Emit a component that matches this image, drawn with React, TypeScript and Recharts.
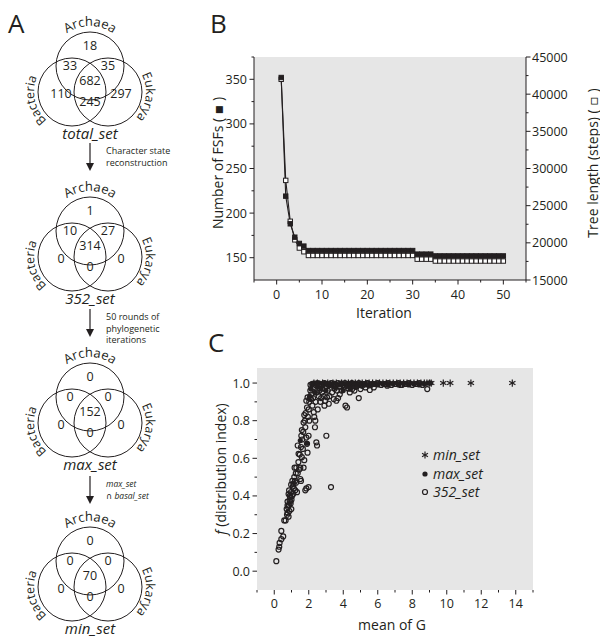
import React from 'react';
import { LineChart, Line, ScatterChart, Scatter, XAxis, YAxis, CartesianGrid } from 'recharts';

const FONT = '"Open Sans", "DejaVu Sans", sans-serif';
const INK = '#231f20';
const PLOT_BG = '#e6e6e6';

// ---- panel A: Venn counts (Archaea / Bacteria / Eukarya)
const vennNames = ['total_set', '352_set', 'max_set', 'min_set'];
const archaeaOnly = [18, 1, 0, 0];
const archaeaBacteria = [33, 10, 0, 0];
const archaeaEukarya = [35, 27, 0, 0];
const allDomains = [682, 314, 152, 70];
const bacteriaOnly = [110, 0, 0, 0];
const eukaryaOnly = [297, 0, 0, 0];
const bacteriaEukarya = [245, 0, 0, 0];
const stepNotes = [
  ['Character state', 'reconstruction'],
  ['50 rounds of', 'phylogenetic', 'iterations'],
  ['max_set', '\u2229 basal_set'],
];

// ---- panel B: FSFs and tree length per iteration
const iterations = [
  1, 2, 3, 4, 5, 6, 7, 8, 9, 10, 11, 12, 13, 14, 15, 16, 17, 18, 19, 20, 21, 22, 23, 24, 25,
  26, 27, 28, 29, 30, 31, 32, 33, 34, 35, 36, 37, 38, 39, 40, 41, 42, 43, 44, 45, 46, 47, 48, 49, 50,
];
const fsfCounts = [
  352, 219, 188, 173, 166, 163,
  158, 158, 158, 158, 158, 158, 158, 158, 158, 158, 158, 158, 158, 158, 158, 158, 158, 158, 158, 158, 158, 158, 158, 158,
  154, 154, 154, 154,
  152, 152, 152, 152, 152, 152, 152, 152, 152, 152, 152, 152, 152, 152, 152, 152,
];
const treeLengths = [
  42000, 28400, 22900, 20400, 19300, 18800,
  18300, 18300, 18300, 18300, 18300, 18300, 18300, 18300, 18300, 18300, 18300, 18300, 18300, 18300, 18300, 18300, 18300, 18300, 18300, 18300, 18300, 18300, 18300, 18300,
  17800, 17800, 17800, 17800,
  17550, 17550, 17550, 17550, 17550, 17550, 17550, 17550, 17550, 17550, 17550, 17550, 17550, 17550, 17550, 17550,
];
const bXTicks = [-5, 0, 5, 10, 15, 20, 25, 30, 35, 40, 45, 50, 55];
const bXLabels = [0, 10, 20, 30, 40, 50];
const bLeftTicks = [150, 175, 200, 225, 250, 275, 300, 325, 350, 375];
const bLeftLabels = [150, 200, 250, 300, 350];
const bRightTicks = [15000, 17500, 20000, 22500, 25000, 27500, 30000, 32500, 35000, 37500, 40000, 42500, 45000];
const bRightLabels = [15000, 20000, 25000, 30000, 35000, 40000, 45000];

// ---- panel C: f vs mean of G
const set352 = [
  [0.12, 0.053], [0.25, 0.115], [0.29, 0.13], [0.31, 0.15], [0.41, 0.17], [0.41, 0.214], [0.52, 0.185],
  [0.58, 0.27], [0.66, 0.27], [0.74, 0.3], [0.77, 0.31], [0.83, 0.29], [0.77, 0.35], [0.77, 0.37],
  [0.85, 0.35], [0.89, 0.376], [0.93, 0.394], [0.83, 0.41], [0.97, 0.42], [1.03, 0.4], [0.99, 0.33],
  [0.93, 0.37], [1.08, 0.45], [1.12, 0.465], [1.05, 0.48], [1.16, 0.5], [1.22, 0.43], [1.32, 0.42],
  [1.26, 0.47], [1.36, 0.52], [1.28, 0.55], [1.18, 0.55], [1.36, 0.668], [1.41, 0.624], [1.51, 0.49],
  [1.51, 0.55], [1.55, 0.48], [1.6, 0.606], [1.66, 0.65], [1.7, 0.55], [1.74, 0.59], [1.57, 0.72],
  [1.6, 0.75], [1.7, 0.79], [1.74, 0.83], [1.8, 0.765], [1.86, 0.71], [1.9, 0.677], [1.99, 0.447],
  [1.8, 0.43], [1.86, 0.44], [1.93, 0.63], [1.99, 0.72], [2.03, 0.8], [1.9, 0.87], [1.86, 0.906],
  [1.93, 0.924], [2.03, 0.9], [2.13, 0.915], [2.09, 0.96], [2.21, 0.88], [2.29, 0.845], [2.32, 0.82],
  [2.38, 0.8], [2.36, 0.765], [2.44, 0.685], [2.48, 0.668], [2.52, 0.86], [2.58, 0.93], [2.67, 0.9],
  [2.77, 0.95], [2.87, 0.93], [2.91, 0.88], [3.02, 0.72], [2.96, 0.905], [3.06, 0.924], [3.16, 0.89],
  [3.29, 0.447], [3.35, 0.95], [3.45, 0.915], [3.6, 0.906], [3.64, 0.96], [3.8, 0.94], [4.13, 0.88],
  [4.22, 0.87], [4.38, 0.95], [4.52, 0.968], [4.65, 0.96], [4.9, 0.92], [5.0, 0.968], [5.29, 0.977],
  [5.54, 0.963], [5.77, 0.977], [6.55, 0.986], [7.32, 0.99], [8.87, 0.968],
  [0.72, 0.33], [0.8, 0.34], [0.88, 0.32], [0.95, 0.36], [1.0, 0.38], [0.9, 0.4], [0.86, 0.43],
  [1.1, 0.41], [1.14, 0.44], [1.2, 0.48], [0.98, 0.46], [1.25, 0.52], [1.4, 0.58], [1.45, 0.54],
  [1.48, 0.62], [1.55, 0.66], [1.62, 0.7], [1.68, 0.74], [1.78, 0.8], [1.82, 0.84], [1.95, 0.82],
  [2.0, 0.86], [2.06, 0.92], [2.15, 0.94], [2.25, 0.92], [2.4, 0.9], [2.45, 0.95], [2.62, 0.96],
  [2.72, 0.92], [2.8, 0.97], [3.1, 0.96], [3.2, 0.93], [3.5, 0.97], [3.7, 0.92], [3.9, 0.96],
  [4.05, 0.98], [4.3, 0.97], [4.7, 0.98], [5.1, 0.985],
  [2.1, 0.99], [2.2, 0.995], [2.3, 0.98], [2.4, 0.99], [2.5, 1.0], [2.6, 0.985], [2.7, 0.995],
  [2.8, 0.99], [2.9, 1.0], [3.0, 0.98], [3.1, 0.995], [3.2, 0.99], [3.3, 1.0], [3.4, 0.985],
  [3.5, 0.995], [3.6, 0.99], [3.7, 1.0], [3.8, 0.98], [3.9, 0.995], [4.0, 0.99], [4.1, 1.0],
  [4.2, 0.985], [4.3, 0.995], [4.4, 0.99], [4.5, 1.0], [4.6, 0.985], [4.7, 0.995], [4.8, 0.99],
  [4.9, 1.0], [5.0, 0.99], [5.2, 0.995], [5.4, 1.0], [5.6, 0.99], [5.8, 0.995], [6.0, 1.0],
  [6.2, 0.99], [6.4, 0.995], [6.6, 1.0], [6.8, 0.99], [7.0, 0.995], [7.2, 1.0], [7.4, 0.99],
  [7.6, 0.995], [7.8, 1.0], [8.0, 0.99], [8.2, 0.995], [8.4, 1.0], [8.6, 0.99],
];
const maxSet = [
  [1.51, 0.694], [1.9, 0.68], [2.05, 0.93], [2.12, 0.97], [2.2, 0.99], [2.35, 0.95], [2.5, 0.98],
  [2.7, 0.97], [2.85, 0.99], [3.0, 0.96], [3.15, 0.985], [3.3, 0.99], [3.55, 0.975], [3.75, 0.99],
  [4.0, 0.96], [4.25, 0.985], [4.4, 0.97], [4.6, 0.99], [4.8, 0.98], [5.05, 0.995], [5.3, 0.99],
  [5.5, 0.985], [5.75, 0.995], [6.0, 0.99], [6.3, 0.995], [6.6, 0.99], [6.9, 0.995], [7.2, 0.99],
  [7.5, 0.995], [7.8, 0.99], [8.1, 0.995], [8.4, 0.99], [8.7, 0.995], [8.95, 1.0], [9.05, 1.0],
  [2.28, 1.0], [2.6, 1.0], [2.95, 1.0], [3.45, 1.0], [3.9, 1.0], [4.5, 1.0],
];
const minSetG = [
  2.3, 2.5, 2.8, 3.1, 3.4, 3.6, 3.9, 4.1, 4.3, 4.5, 4.7, 4.9, 5.1, 5.3, 5.5, 5.7, 5.9, 6.1, 6.3,
  6.5, 6.7, 6.9, 7.1, 7.3, 7.5, 7.7, 7.9, 8.1, 8.3, 8.5, 8.7, 8.85, 9.0, 9.1, 9.8, 10.2, 11.4, 13.8,
];
const minSetF = minSetG.map(() => 1.0);
const cXTicks = [-1, 0, 1, 2, 3, 4, 5, 6, 7, 8, 9, 10, 11, 12, 13, 14, 15];
const cXLabels = [0, 2, 4, 6, 8, 10, 12, 14];
const cYTicks = [0, 0.1, 0.2, 0.3, 0.4, 0.5, 0.6, 0.7, 0.8, 0.9, 1.0];
const cYLabels = [0, 0.2, 0.4, 0.6, 0.8, 1.0];

const bData = iterations.map((it, i) => ({ iter: it, fsf: fsfCounts[i], len: treeLengths[i] }));
const toPts = (arr: number[][]) => arr.map(([x, y]) => ({ x, y }));
const minPts = minSetG.map((x, i) => ({ x, y: minSetF[i] }));

function makeTick(side: 'left' | 'right' | 'bottom', labels: number[], fmt: (v: number) => string, gap: number) {
  return function Tick(props: any) {
    const { x, y, payload } = props;
    const v = payload.value;
    const major = labels.some((m) => Math.abs(m - v) < 1e-6);
    const len = major ? 4.5 : 2.5;
    if (side === 'bottom') {
      return (
        <g>
          <line x1={x} x2={x} y1={y} y2={y + len} stroke={INK} />
          {major && (
            <text x={x} y={y + gap} textAnchor="middle" fontSize={12.5} fontFamily={FONT} fill={INK}>
              {fmt(v)}
            </text>
          )}
        </g>
      );
    }
    const dir = side === 'left' ? -1 : 1;
    return (
      <g>
        <line x1={x} x2={x + dir * len} y1={y} y2={y} stroke={INK} />
        {major && (
          <text x={x + dir * gap} y={y + 4.5} textAnchor={side === 'left' ? 'end' : 'start'} fontSize={12.5} fontFamily={FONT} fill={INK}>
            {fmt(v)}
          </text>
        )}
      </g>
    );
  };
}

const intFmt = (v: number) => String(v);
const decFmt = (v: number) => v.toFixed(1);

const squareDot = (filled: boolean) => (p: any) => (
  <rect
    key={`${filled ? 'f' : 'o'}-${p.index}`}
    x={p.cx - 2.2}
    y={p.cy - 2.2}
    width={4.4}
    height={4.4}
    fill={filled ? INK : '#fff'}
    stroke={INK}
    strokeWidth={1}
  />
);

const OpenDot = (p: any) => <circle cx={p.cx} cy={p.cy} r={2.5} fill="none" stroke={INK} strokeWidth={1.2} />;
const FilledDot = (p: any) => <circle cx={p.cx} cy={p.cy} r={2.6} fill={INK} />;
function Star({ cx, cy, s = 3.6 }: { cx: number; cy: number; s?: number }) {
  const dx = s * 0.87;
  const dy = s * 0.5;
  return (
    <g stroke={INK} strokeWidth={1.2}>
      <line x1={cx} y1={cy - s} x2={cx} y2={cy + s} />
      <line x1={cx - dx} y1={cy - dy} x2={cx + dx} y2={cy + dy} />
      <line x1={cx - dx} y1={cy + dy} x2={cx + dx} y2={cy - dy} />
    </g>
  );
}
const StarDot = (p: any) => <Star cx={p.cx} cy={p.cy} />;

// layout of panel A
const vennOffsets = [0, 165, 331, 495];
const arrowTops = [143, 309, 476];

function arcPath(cx: number, cy: number, r: number, a0: number, a1: number) {
  const p = (a: number) => [cx + r * Math.cos((a * Math.PI) / 180), cy + r * Math.sin((a * Math.PI) / 180)];
  const [x0, y0] = p(a0);
  const [x1, y1] = p(a1);
  return `M ${x0} ${y0} A ${r} ${r} 0 0 1 ${x1} ${y1}`;
}

function Venn({ i }: { i: number }) {
  const oy = vennOffsets[i];
  const R = 34;
  const a = { x: 90, y: 66 + oy };
  const b = { x: 72, y: 92 + oy };
  const e = { x: 108, y: 92 + oy };
  const num = (x: number, y: number, v: number) => (
    <text x={x} y={y + oy + 4.5} textAnchor="middle" fontSize={12.5} fontFamily={FONT} fill={INK}>
      {v}
    </text>
  );
  return (
    <g>
      <defs>
        <path id={`arcA${i}`} d={arcPath(a.x, a.y, 40, 195, 345)} />
        <path id={`arcB${i}`} d={arcPath(b.x, b.y, 38, 90, 245)} />
        <path id={`arcE${i}`} d={arcPath(e.x, e.y, 38, -70, 85)} />
      </defs>
      {[a, b, e].map((c, k) => (
        <circle key={k} cx={c.x} cy={c.y} r={R} fill="none" stroke={INK} strokeWidth={1} />
      ))}
      <text fontSize={13} fontFamily={FONT} fill={INK}>
        <textPath href={`#arcA${i}`} startOffset="50%" textAnchor="middle">Archaea</textPath>
      </text>
      <text fontSize={12.5} fontFamily={FONT} fill={INK}>
        <textPath href={`#arcB${i}`} startOffset="50%" textAnchor="middle">Bacteria</textPath>
      </text>
      <text fontSize={12.5} fontFamily={FONT} fill={INK}>
        <textPath href={`#arcE${i}`} startOffset="50%" textAnchor="middle">Eukarya</textPath>
      </text>
      {num(90, 45, archaeaOnly[i])}
      {num(70, 65, archaeaBacteria[i])}
      {num(108, 65, archaeaEukarya[i])}
      {num(90, 80, allDomains[i])}
      {num(61, 93, bacteriaOnly[i])}
      {num(121, 93, eukaryaOnly[i])}
      {num(90, 101, bacteriaEukarya[i])}
      <text x={90} y={139 + oy} textAnchor="middle" fontSize={15} fontStyle="italic" fontFamily={FONT} fill={INK}>
        {vennNames[i]}
      </text>
    </g>
  );
}

function StepArrow({ i }: { i: number }) {
  const top = arrowTops[i];
  const italic = i === 2;
  return (
    <g>
      <line x1={90} y1={top} x2={90} y2={top + 22} stroke={INK} strokeWidth={1.2} />
      <polygon points={`86,${top + 20} 94,${top + 20} 90,${top + 28}`} fill={INK} />
      {stepNotes[i].map((t, k) => (
        <text
          key={k}
          x={106}
          y={top + 11 + k * 11.5}
          fontSize={italic ? 8.5 : 9}
          fontStyle={italic ? 'italic' : 'normal'}
          fontFamily={FONT}
          fill={INK}
        >
          {t}
        </text>
      ))}
    </g>
  );
}

export default function App() {
  return (
    <div style={{ position: 'relative', width: 600, height: 641, background: '#fff', overflow: 'hidden' }}>
      <style>{'body{margin:0}'}</style>

      <div style={{ position: 'absolute', left: 200, top: 0 }}>
        <LineChart width={400} height={330} data={bData} margin={{ top: 57, right: 0, bottom: 0, left: 0 }}>
          <CartesianGrid yAxisId="left" fill={PLOT_BG} horizontal={false} vertical={false} stroke="none" />
          <XAxis
            type="number"
            dataKey="iter"
            domain={[-5, 55]}
            allowDataOverflow
            ticks={bXTicks}
            interval={0}
            height={50}
            tickSize={0}
            tickMargin={0}
            tickLine={false}
            axisLine={{ stroke: INK }}
            tick={makeTick('bottom', bXLabels, intFmt, 19)}
          />
          <YAxis
            yAxisId="left"
            type="number"
            domain={[125, 375]}
            allowDataOverflow
            ticks={bLeftTicks}
            interval={0}
            width={54}
            tickSize={0}
            tickMargin={0}
            tickLine={false}
            axisLine={{ stroke: INK }}
            tick={makeTick('left', bLeftLabels, intFmt, 7)}
          />
          <YAxis
            yAxisId="right"
            orientation="right"
            type="number"
            domain={[15000, 45000]}
            allowDataOverflow
            ticks={bRightTicks}
            interval={0}
            width={74}
            tickSize={0}
            tickMargin={0}
            tickLine={false}
            axisLine={{ stroke: INK }}
            tick={makeTick('right', bRightLabels, intFmt, 6)}
          />
          <Line yAxisId="right" type="linear" dataKey="len" stroke={INK} strokeWidth={1.1} dot={squareDot(false)} isAnimationActive={false} />
          <Line yAxisId="left" type="linear" dataKey="fsf" stroke={INK} strokeWidth={1.1} dot={squareDot(true)} isAnimationActive={false} />
        </LineChart>
      </div>

      <div style={{ position: 'absolute', left: 200, top: 320 }}>
        <ScatterChart width={400} height={321} margin={{ top: 48, right: 67, bottom: 0, left: 0 }}>
          <CartesianGrid fill={PLOT_BG} horizontal={false} vertical={false} stroke="none" />
          <XAxis
            type="number"
            dataKey="x"
            domain={[-1, 15]}
            allowDataOverflow
            ticks={cXTicks}
            interval={0}
            height={51}
            tickSize={0}
            tickMargin={0}
            tickLine={false}
            axisLine={false}
            tick={makeTick('bottom', cXLabels, intFmt, 18)}
          />
          <YAxis
            type="number"
            dataKey="y"
            domain={[-0.1, 1.08]}
            allowDataOverflow
            ticks={cYTicks}
            interval={0}
            width={57}
            tickSize={0}
            tickMargin={0}
            tickLine={false}
            axisLine={false}
            tick={makeTick('left', cYLabels, decFmt, 7)}
          />
          <Scatter name="352_set" data={toPts(set352)} shape={OpenDot} isAnimationActive={false} />
          <Scatter name="max_set" data={toPts(maxSet)} shape={FilledDot} isAnimationActive={false} />
          <Scatter name="min_set" data={minPts} shape={StarDot} isAnimationActive={false} />
        </ScatterChart>
      </div>

      <svg width={600} height={641} style={{ position: 'absolute', left: 0, top: 0, pointerEvents: 'none' }}>
        <g fontFamily={FONT} fill={INK}>
          <text x={8} y={33} fontSize={26}>A</text>
          <text x={210} y={33} fontSize={26}>B</text>
          <text x={208} y={352} fontSize={26}>C</text>
        </g>
        {[0, 1, 2, 3].map((i) => (
          <Venn key={i} i={i} />
        ))}
        {[0, 1, 2].map((i) => (
          <StepArrow key={i} i={i} />
        ))}

        <text transform="translate(217,163) rotate(-90)" textAnchor="middle" dominantBaseline="central" fontSize={14} fontFamily={FONT} fill={INK}>
          Number of FSFs ( {'\u25AA'} )
        </text>
        <text transform="translate(592,163) rotate(-90)" textAnchor="middle" dominantBaseline="central" fontSize={14} fontFamily={FONT} fill={INK}>
          Tree length (steps) ( {'\u25AB'} )
        </text>
        <text x={384} y={318} textAnchor="middle" fontSize={14} fontFamily={FONT} fill={INK}>
          Iteration
        </text>

        <text transform="translate(220,469) rotate(-90)" textAnchor="middle" dominantBaseline="central" fontSize={14} fontFamily={FONT} fill={INK}>
          <tspan fontStyle="italic">f</tspan>
          <tspan> (distribution index)</tspan>
        </text>
        <text x={392} y={630} textAnchor="middle" fontSize={14} fontFamily={FONT} fill={INK}>
          mean of G
        </text>

        <Star cx={425} cy={455} s={3.4} />
        <text x={433} y={460} fontSize={14} fontStyle="italic" fontFamily={FONT} fill={INK}>min_set</text>
        <circle cx={425} cy={474} r={2.6} fill={INK} />
        <text x={433} y={479} fontSize={14} fontStyle="italic" fontFamily={FONT} fill={INK}>max_set</text>
        <circle cx={425} cy={492} r={2.5} fill="none" stroke={INK} strokeWidth={1.2} />
        <text x={433} y={497} fontSize={14} fontStyle="italic" fontFamily={FONT} fill={INK}>352_set</text>
      </svg>
    </div>
  );
}
